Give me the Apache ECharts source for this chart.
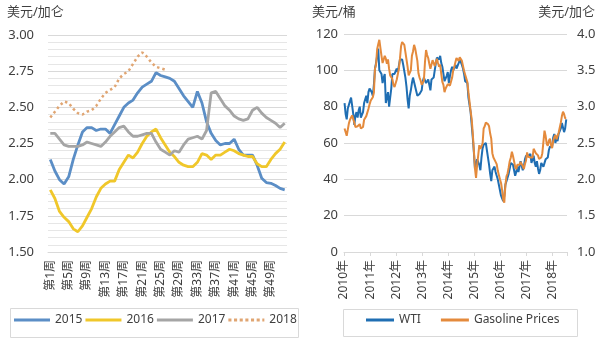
<!DOCTYPE html>
<html><head><meta charset="utf-8">
<script src="https://cdn.jsdelivr.net/npm/echarts@6/dist/echarts.min.js"></script>
<style>html,body{margin:0;padding:0;background:#fff}#c{width:605px;height:340px}</style>
</head><body><div id="c"></div>
<script>
// ---------- Left chart: weekly gasoline price by year ----------
const weeks = Array.from({length: 52}, (_, i) => '第' + (i + 1) + '周');
const s2015 = [2.14,2.06,2.00,1.97,2.02,2.14,2.24,2.33,2.36,2.36,2.34,2.35,2.35,2.32,2.38,2.44,2.50,2.53,2.55,2.60,2.64,2.66,2.68,2.74,2.72,2.71,2.70,2.68,2.63,2.58,2.54,2.50,2.61,2.53,2.40,2.32,2.27,2.24,2.25,2.25,2.28,2.21,2.17,2.17,2.17,2.10,2.01,1.98,1.975,1.96,1.94,1.93];
const s2016 = [1.93,1.87,1.78,1.74,1.71,1.66,1.64,1.68,1.74,1.80,1.88,1.94,1.97,1.99,1.99,2.07,2.12,2.17,2.15,2.19,2.25,2.30,2.33,2.35,2.29,2.24,2.19,2.16,2.12,2.10,2.09,2.09,2.12,2.18,2.17,2.14,2.17,2.17,2.19,2.21,2.20,2.18,2.17,2.16,2.16,2.11,2.09,2.09,2.14,2.18,2.21,2.26];
const s2017 = [2.32,2.32,2.28,2.24,2.23,2.23,2.23,2.24,2.26,2.25,2.24,2.23,2.26,2.30,2.33,2.36,2.37,2.33,2.30,2.30,2.31,2.32,2.32,2.26,2.21,2.19,2.17,2.20,2.19,2.24,2.28,2.29,2.30,2.28,2.34,2.60,2.61,2.56,2.51,2.48,2.44,2.42,2.41,2.42,2.48,2.50,2.46,2.43,2.41,2.39,2.36,2.39];
const s2018 = [2.43,2.47,2.51,2.54,2.53,2.49,2.46,2.45,2.47,2.48,2.51,2.56,2.60,2.62,2.64,2.70,2.73,2.75,2.80,2.85,2.88,2.85,2.81,2.78,2.77,2.76];
const seriesNames = ['2015', '2016', '2017', '2018'];

// ---------- Right chart: semi-monthly WTI ($/bbl) & gasoline ($/gal), from Jan 2010 ----------
const startYear = 2010;
const wti = [
  82,76,73,79,81,81,85,84,76,70,75,77,74,78,80,74,75,77,82,81,86,82,88,90,      // 2010
  91,88,86,92,101,104,108,112,100,99,98,93,96,98,82,85,88,80,79,90,98,98,98,99, // 2011
  101,99,99,106,106,106,103,104,96,91,84,79,86,89,93,96,97,91,91,86,86,87,86,89, // 2012
  94,96,97,93,92,95,92,89,95,94,96,97,104,107,106,106,108,104,102,98,94,94,97,99, // 2013
  93,97,100,102,100,100,103,101,100,104,106,107,103,101,98,94,93,93,85,81,77,76,63,55, // 2014
  46,46,51,50,48,45,52,57,59,59,60,59,52,48,43,39,45,45,47,44,42,40,37,36,      // 2015
  31,30,28,31,37,39,40,43,46,49,49,48,45,42,44,47,44,45,50,50,45,47,51,53,      // 2016
  52,53,53,54,49,48,53,49,47,50,46,43,45,49,48,47,48,51,50,52,56,58,57,58,      // 2017
  63,65,60,63,61,65,66,68,71,70,66,68,73                                        // 2018
];
const gas = [
  2.70,2.68,2.60,2.62,2.77,2.82,2.85,2.88,2.86,2.78,2.72,2.74,2.73,2.74,2.76,2.70,2.70,2.72,2.82,2.83,2.87,2.88,2.97,3.03,
  3.08,3.10,3.13,3.19,3.52,3.58,3.79,3.86,3.92,3.81,3.70,3.60,3.65,3.70,3.66,3.59,3.65,3.52,3.43,3.45,3.38,3.30,3.27,3.25,
  3.37,3.39,3.52,3.66,3.83,3.89,3.90,3.85,3.75,3.65,3.55,3.43,3.41,3.50,3.70,3.76,3.85,3.80,3.78,3.63,3.46,3.40,3.36,3.30,
  3.30,3.36,3.61,3.78,3.71,3.67,3.59,3.52,3.58,3.64,3.63,3.56,3.57,3.66,3.60,3.55,3.58,3.45,3.34,3.30,3.20,3.25,3.26,3.31,
  3.32,3.29,3.31,3.40,3.50,3.55,3.61,3.67,3.65,3.63,3.68,3.69,3.63,3.56,3.49,3.44,3.42,3.34,3.20,3.07,2.94,2.83,2.63,2.40,
  2.15,2.02,2.20,2.33,2.47,2.42,2.40,2.49,2.70,2.73,2.78,2.76,2.76,2.73,2.63,2.56,2.36,2.30,2.28,2.24,2.21,2.12,2.06,2.00,
  1.95,1.85,1.72,1.68,1.92,2.04,2.08,2.16,2.25,2.30,2.38,2.32,2.25,2.17,2.14,2.20,2.22,2.20,2.24,2.22,2.18,2.14,2.21,2.26,
  2.37,2.31,2.30,2.30,2.31,2.30,2.42,2.43,2.36,2.36,2.33,2.28,2.26,2.30,2.36,2.35,2.67,2.60,2.49,2.46,2.53,2.56,2.47,2.43,
  2.53,2.58,2.61,2.55,2.55,2.64,2.71,2.78,2.87,2.93,2.90,2.84,2.84
];
const dateOf = i => startYear + (i * 0.5 + 0.25) / 12;

const FONT = '"Noto Sans", "Noto Sans CJK SC", sans-serif';
const TXT = '#404040';
const GRID = '#d9d9d9';
const BLUE = '#5b8ec6', YELLOW = '#f0c72a', GRAY = '#a5a5a5', TAN = '#e0a572';
const WTI_C = '#1f6eb3', GAS_C = '#e48a3c';

const LINE_ICON = 'path://M0,0H36V3H0Z';
const DOT_ICON = 'path://M1,0h3v3h-3z M6.5,0h3v3h-3z M12,0h3v3h-3z M17.5,0h3v3h-3z M23,0h3v3h-3z M28.5,0h3v3h-3z M34,0h2v3h-2z';

const chart = echarts.init(document.getElementById('c'), null, {renderer: 'canvas'});
const leftColors = [BLUE, YELLOW, GRAY, TAN];
const leftData = [s2015, s2016, s2017, s2018];

const option = {
  animation: false,
  textStyle: {fontFamily: FONT},
  grid: [
    {left: 48, top: 35, width: 239, height: 217},
    {left: 344, top: 34, width: 223, height: 218}
  ],
  xAxis: [
    {type: 'category', gridIndex: 0, data: weeks, boundaryGap: true,
     axisLine: {lineStyle: {color: GRID}}, axisTick: {show: false},
     axisLabel: {interval: 3, rotate: 90, fontSize: 12, color: TXT, margin: 8, fontFamily: FONT}},
    {type: 'value', gridIndex: 1, min: 2010, max: 2018.55, interval: 1,
     splitLine: {show: false},
     axisLine: {show: true, onZero: false, lineStyle: {color: GRID}},
     axisTick: {show: true, length: 4, lineStyle: {color: GRID}},
     axisLabel: {rotate: 90, fontSize: 12, color: TXT, margin: 8, fontFamily: FONT,
       formatter: v => Number.isInteger(v) ? v + '年' : ''}}
  ],
  yAxis: [
    {type: 'value', gridIndex: 0, min: 1.5, max: 3.0, interval: 0.25,
     axisLine: {show: false}, axisTick: {show: false},
     axisLabel: {formatter: v => v.toFixed(2), fontSize: 13, color: TXT, margin: 14},
     splitLine: {lineStyle: {color: GRID}},
     minorTick: {show: false, splitNumber: 5},
     minorSplitLine: {show: true, lineStyle: {color: '#e6e6e6'}}},
    {type: 'value', gridIndex: 1, min: 0, max: 120, interval: 20,
     axisLine: {show: false}, axisTick: {show: false},
     axisLabel: {fontSize: 13, color: TXT, margin: 6},
     splitLine: {lineStyle: {color: GRID}}},
    {type: 'value', gridIndex: 1, position: 'right', min: 1, max: 4, interval: 0.5,
     axisLine: {show: false}, axisTick: {show: false},
     axisLabel: {formatter: v => v.toFixed(1), fontSize: 13, color: TXT, margin: 10},
     splitLine: {show: false}}
  ],
  legend: [
    {data: seriesNames.map((n, k) => ({name: n, icon: k === 3 ? DOT_ICON : LINE_ICON,
       itemStyle: {color: leftColors[k], borderWidth: 0}})),
     left: 14, top: 314, itemWidth: 36, itemHeight: 3, itemGap: 3, padding: 0, symbolKeepAspect: false,
     textStyle: {fontSize: 12, color: TXT, fontFamily: FONT}},
    {data: [{name: 'WTI', icon: LINE_ICON, itemStyle: {color: WTI_C, borderWidth: 0}},
            {name: 'Gasoline Prices', icon: LINE_ICON, itemStyle: {color: GAS_C, borderWidth: 0}}],
     left: 366, top: 314, itemWidth: 28, itemHeight: 3, itemGap: 20, padding: 0, symbolKeepAspect: false,
     textStyle: {fontSize: 12, color: TXT, fontFamily: FONT}}
  ],
  graphic: [
    {type: 'rect', left: 8, top: 306, shape: {width: 288, height: 29}, style: {fill: 'none', stroke: GRID, lineWidth: 1}, silent: true},
    {type: 'rect', left: 341, top: 307, shape: {width: 234, height: 27}, style: {fill: 'none', stroke: GRID, lineWidth: 1}, silent: true},
    {type: 'text', left: 7, top: 6, style: {text: '美元/加仑', fontSize: 13, fill: TXT, fontFamily: FONT}},
    {type: 'text', left: 312, top: 6, style: {text: '美元/桶', fontSize: 13, fill: TXT, fontFamily: FONT}},
    {type: 'text', right: 10, top: 6, style: {text: '美元/加仑', fontSize: 13, fill: TXT, fontFamily: FONT}}
  ],
  series: [
    ...seriesNames.map((n, k) => ({
      name: n, type: 'line', xAxisIndex: 0, yAxisIndex: 0, data: leftData[k],
      symbol: 'none', smooth: false,
      lineStyle: k === 3 ? {color: leftColors[k], width: 2.5, type: [2.5, 3]} : {color: leftColors[k], width: 2.8},
      itemStyle: {color: leftColors[k]}
    })),
    {name: 'WTI', type: 'line', xAxisIndex: 1, yAxisIndex: 1, symbol: 'none',
     data: wti.map((v, i) => [dateOf(i), v]),
     lineStyle: {color: WTI_C, width: 2}, itemStyle: {color: WTI_C}},
    {name: 'Gasoline Prices', type: 'line', xAxisIndex: 1, yAxisIndex: 2, symbol: 'none',
     data: gas.map((v, i) => [dateOf(i), v]),
     lineStyle: {color: GAS_C, width: 2}, itemStyle: {color: GAS_C}}
  ]
};
chart.setOption(option);
</script></body></html>
